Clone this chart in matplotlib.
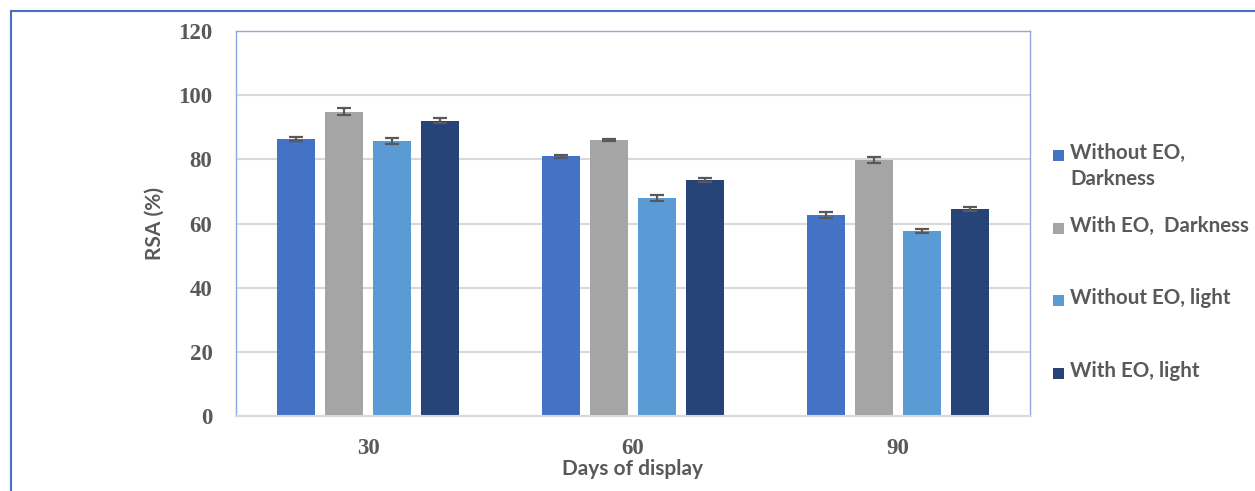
import matplotlib
matplotlib.use("Agg")
import matplotlib.pyplot as plt
from matplotlib.patches import Rectangle
import numpy as np

categories = ["30", "60", "90"]
series_names = ["Without EO,\nDarkness", "With EO,  Darkness", "Without EO, light", "With EO, light"]
values = [
    [86.3, 81.0, 62.7],
    [94.9, 86.0, 79.8],
    [85.7, 68.0, 57.7],
    [92.1, 73.6, 64.5],
]
errors = [
    [0.7, 0.5, 1.0],
    [1.2, 0.4, 1.0],
    [0.8, 1.0, 0.7],
    [0.7, 0.6, 0.6],
]
colors = ["#4472C4", "#A5A5A5", "#5B9BD5", "#264478"]
yticks = [0, 20, 40, 60, 80, 100, 120]

W, H = 1255, 491
fig = plt.figure(figsize=(W / 100, H / 100), dpi=100)
ax = fig.add_axes([236 / W, 1 - 416 / H, (1030 - 236) / W, (416 - 31) / H])

txt = "#595959"
serif = "Liberation Serif"
x = np.arange(len(categories))
bw = 0.1436
step = 0.1813
for i, (vals, errs, c) in enumerate(zip(values, errors, colors)):
    offs = (i - 1.5) * step
    ax.bar(x + offs, vals, width=bw, color=c, zorder=2,
           yerr=errs, error_kw=dict(ecolor="#595959", elinewidth=1.6, capsize=5, capthick=1.6, zorder=3))

ax.set_xlim(-0.5, 2.5)
ax.set_ylim(0, 120)
ax.set_yticks(yticks)
ax.set_yticklabels([str(t) for t in yticks], fontfamily=serif, fontweight="bold", fontsize=16.5, color=txt)
ax.set_xticks(x)
ax.set_xticklabels(categories, fontfamily=serif, fontweight="bold", fontsize=16.5, color=txt)
ax.tick_params(axis="y", length=0, pad=17)
ax.tick_params(axis="x", length=0, pad=16)
ax.grid(axis="y", color="#D9D9D9", linewidth=1.5, zorder=0)
ax.set_axisbelow(True)
for s in ["left", "top", "right"]:
    ax.spines[s].set_color("#8EA9DB")
    ax.spines[s].set_linewidth(1.0)
ax.spines["bottom"].set_color("#D9D9D9")
ax.spines["bottom"].set_linewidth(1.5)

ax.set_ylabel("RSA (%)", fontfamily="Lato", fontweight="bold", fontsize=15, color=txt, labelpad=10)
ax.set_xlabel("Days of display", fontfamily="Lato", fontweight="bold", fontsize=15, color=txt, labelpad=0)

# outer frame
fig.patches.append(Rectangle((11 / W, -0.1), 1.2, 1 - 11 / H + 0.1, transform=fig.transFigure,
                             fill=False, edgecolor="#4472C4", linewidth=1.5))

# legend
leg_y = [155, 228, 300, 373]
for name, c, yy in zip(series_names, colors, leg_y):
    fig.patches.append(Rectangle((1053 / W, 1 - (yy + 6) / H), 11 / W, 11 / H,
                                 transform=fig.transFigure, facecolor=c, edgecolor="none"))
    fig.text(1070 / W, 1 - (yy - 12) / H, name, fontfamily="Lato", fontweight="bold", fontsize=14.8,
             color=txt, va="top", ha="left", linespacing=1.35)

fig.savefig("out.png", dpi=100)
